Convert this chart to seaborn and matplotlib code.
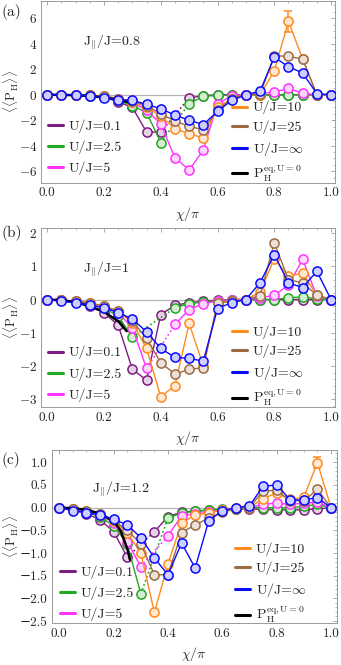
import numpy as np
import pandas as pd
import seaborn as sns
import matplotlib.pyplot as plt
from matplotlib.colors import to_rgb
from matplotlib.lines import Line2D
from matplotlib.ticker import MultipleLocator

nan = np.nan

# chi/pi grid of the simulation points
chi = [0.0, 0.05, 0.1, 0.15, 0.2, 0.25, 0.3, 0.35, 0.4, 0.45, 0.5,
       0.55, 0.6, 0.65, 0.7, 0.75, 0.8, 0.85, 0.9, 0.95, 1.0]

labels = ['U/J=0.1', 'U/J=2.5', 'U/J=5', 'U/J=10', 'U/J=25', r'U/J=$\infty$']
colors = ['#7d1d80', '#22a822', '#ff33ff', '#ff8a1e', '#9b6b43', '#0a0aff']

# ---- (a) J_par/J = 0.8
a_u01 = [0, 0, -0.02, -0.08, -0.2, -0.55, -1.0, -2.93, -2.93, nan, -0.25,
         -0.08, 0, 0, 0, 0, 0, 0, 0, 0, 0]
a_u25 = [0, 0, -0.02, -0.07, -0.18, -0.45, -0.85, -1.4, -3.75, nan, -0.7,
         -0.13, -0.05, -0.02, 0, 0, 0, 0, 0, 0, 0]
a_u5 = [0, 0, -0.02, -0.06, -0.15, -0.35, -0.6, -1.2, -2.3, -4.95, -5.9,
        -4.35, -0.7, -0.1, 0, 0.1, 0.2, 0.5, 0.1, 0, 0]
a_u10 = [0, 0, -0.02, -0.05, -0.12, -0.3, -0.55, -0.95, -1.7, -2.66, -3.05,
         -3.4, -1.0, -0.35, 0, 0, 1.85, 5.75, 2.8, 0, 0]
a_u25b = [0, 0, -0.02, -0.05, -0.12, -0.3, -0.5, -0.85, -1.5, -2.06, -2.48,
          -2.75, -1.2, -0.3, 0, 0.05, 3.07, 3.0, 2.8, 0, 0]
a_uinf = [0, 0, 0, -0.12, -0.22, -0.4, -0.45, -0.75, -1.1, -1.6, -2.0,
          -2.35, -1.3, -0.45, 0, 0.28, 2.94, 2.2, 1.7, 0.08, 0]
a_eq_x = [0, 0.05, 0.1, 0.15, 0.2, 0.25, 0.3]
a_eq_y = [0, -0.01, -0.04, -0.1, -0.22, -0.4, -0.65]

# ---- (b) J_par/J = 1
b_u01 = [0, -0.02, -0.08, -0.2, -0.4, -0.77, -2.1, -2.42, -0.45, -0.17, -0.1,
         -0.05, -0.02, 0, 0, 0, 0, 0, 0, 0, 0]
b_u25 = [0, -0.02, -0.06, -0.12, -0.25, -0.5, -1.13, nan, nan, -0.25, -0.12,
         -0.08, -0.03, 0, 0, 0, 0, 0.05, 0.08, 0.02, 0]
b_u5 = [0, -0.02, -0.05, -0.12, -0.22, -0.4, -0.85, -2.07, nan, -0.75, -0.3,
        -0.12, -0.05, 0, 0, 0.05, 0.13, 0.43, 1.21, 0.1, 0]
b_u10 = [0, -0.02, -0.05, -0.1, -0.2, -0.35, -0.7, -1.47, -2.92, -2.59, -0.72,
         -2.0, -0.1, -0.05, 0, 0.23, 1.23, 0.7, 0.8, 0.13, 0]
b_u25b = [0, -0.02, -0.05, -0.1, -0.2, -0.35, -0.65, -1.17, -1.9, -2.24, -2.1,
          -2.05, -0.1, -0.05, 0, 0.12, 1.71, 0.6, 0.5, 0.13, 0]
b_uinf = [0, -0.05, -0.1, -0.17, -0.25, -0.39, -0.59, -0.97, -1.47, -1.74,
          -1.77, -1.85, -0.27, -0.09, 0, 0.51, 1.35, 0.5, 0.36, 0.85, 0]
b_eq_x = [0, 0.05, 0.1, 0.15, 0.2, 0.25, 0.28]
b_eq_y = [0, -0.02, -0.08, -0.2, -0.37, -0.65, -0.95]

# ---- (c) J_par/J = 1.2
c_u01 = [0, -0.05, -0.13, -0.27, -0.53, -1.09, nan, -0.53, -0.2, -0.1, -0.08,
         -0.06, -0.05, -0.03, -0.03, -0.04, -0.05, -0.05, -0.05, -0.03, 0]
c_u25 = [0, -0.04, -0.1, -0.2, -0.4, -0.8, -1.9, nan, -0.23, -0.12, -0.08,
         -0.05, -0.03, -0.02, 0, 0, 0, 0, 0.03, 0.07, 0]
c_u5 = [0, -0.04, -0.09, -0.17, -0.33, -0.75, -1.3, nan, -0.62, -0.18, -0.14,
        -0.1, -0.05, 0, 0, 0.07, 0.1, 0.07, 0.1, 0.12, 0]
c_u10 = [0, -0.03, -0.08, -0.15, -0.3, -0.55, -1.0, -2.31, -1.24, -0.34, -0.16,
         -0.12, -0.05, 0, 0, 0.2, 0.32, 0.18, 0.23, 0.99, 0]
c_u25b = [0, -0.03, -0.08, -0.15, -0.28, -0.5, -0.8, -1.48, -1.48, -0.55, -0.38,
          -0.23, -0.1, -0.03, 0, 0.37, 0.38, 0.15, 0.15, 0.4, 0]
c_uinf = [0, -0.07, -0.11, -0.16, -0.26, -0.38, -0.66, -1.11, -1.48, -0.78,
          -1.33, -0.29, -0.07, 0, 0.04, 0.47, 0.5, 0.17, 0.17, 0.22, 0]
c_eq_x = [0, 0.05, 0.1, 0.15, 0.2, 0.225, 0.25, 0.26]
c_eq_y = [0, -0.015, -0.05, -0.13, -0.3, -0.5, -0.9, -1.15]

# error bars (index, error) on the U/J=10 curve
a_err = (17, 0.85)
c_err = (19, 0.12)

sns.set_theme(style='white')
plt.rcParams['font.family'] = ['cmr10', 'DejaVu Serif']
plt.rcParams['mathtext.fontset'] = 'cm'
plt.rcParams['axes.formatter.use_mathtext'] = True


def tint(c, f=0.2):
    r = np.array(to_rgb(c))
    return tuple(1 - f * (1 - r))


def segments(y):
    idx = [i for i, v in enumerate(y) if not np.isnan(v)]
    segs, cur = [], [idx[0]]
    for i in idx[1:]:
        if i == cur[-1] + 1:
            cur.append(i)
        else:
            segs.append(cur)
            cur = [i]
    segs.append(cur)
    return segs


def draw_series(ax, y, c, z):
    y = np.array(y, dtype=float)
    x = np.array(chi)
    segs = segments(y)
    for s in segs:
        df = pd.DataFrame({'chi': x[s], 'P': y[s]})
        sns.lineplot(data=df, x='chi', y='P', ax=ax, color=c, linewidth=1.0,
                     marker='o', markersize=6.6, markerfacecolor=tint(c),
                     markeredgecolor=c, markeredgewidth=1.1, errorbar=None,
                     zorder=z, legend=False)
    for s0, s1 in zip(segs[:-1], segs[1:]):
        ax.plot([x[s0[-1]], x[s1[0]]], [y[s0[-1]], y[s1[0]]], color=c,
                lw=1.2, ls=(0, (1, 1.6)), zorder=z - 0.5)


def panel(ax, series, eq_x, eq_y, err, ylim, ymaj, ymin, jtext, xlim):
    ax.axhline(0, color='#b5b5b5', lw=0.9, zorder=0)
    for k, (y, c) in enumerate(zip(series, colors)):
        if k == 5:
            sns.lineplot(x=eq_x, y=eq_y, ax=ax, color='black', linewidth=1.8,
                         zorder=8, errorbar=None, legend=False)
        draw_series(ax, y, c, 3 + k)
    i, e = err
    if e > 0:
        ax.errorbar(chi[i], series[3][i], yerr=e, fmt='none', ecolor=colors[3],
                    elinewidth=1.1, capsize=3, capthick=1.1, zorder=5)
    ax.set_xlim(*xlim)
    ax.set_ylim(*ylim)
    ax.xaxis.set_major_locator(MultipleLocator(0.2))
    ax.xaxis.set_minor_locator(MultipleLocator(0.05))
    ax.yaxis.set_major_locator(MultipleLocator(ymaj))
    ax.yaxis.set_minor_locator(MultipleLocator(ymin))
    ax.xaxis.set_major_formatter(lambda v, p: f'{v:.1f}')
    ax.tick_params(which='both', direction='in', top=True, right=True,
                   color='#9a9a9a', labelsize=9.5, pad=3)
    ax.tick_params(which='major', length=3.2, width=0.6)
    ax.tick_params(which='minor', length=1.6, width=0.5)
    for sp in ax.spines.values():
        sp.set_color('#9a9a9a')
        sp.set_linewidth(0.7)
    ax.set_xlabel(r'$\chi/\pi$', fontsize=10, labelpad=4)
    ax.set_ylabel(r'$\langle\langle \mathrm{P_H} \rangle\rangle$', fontsize=9.5)
    ax.text(0.142, 0.77, jtext, transform=ax.transAxes, fontsize=10,
            va='center', ha='left')


def legends(ax, xl, yl, xr, yr):
    hl = [Line2D([], [], color=c, lw=2.2) for c in colors[:3]]
    hr = [Line2D([], [], color=c, lw=2.2) for c in colors[3:]]
    hr.append(Line2D([], [], color='black', lw=2.2))
    kw = dict(frameon=False, fontsize=10, handlelength=1.1, handletextpad=0.4,
              borderpad=0, borderaxespad=0, loc='upper left')
    l1 = ax.legend(hl, labels[:3], bbox_to_anchor=(xl, yl), labelspacing=0.55, **kw)
    ax.add_artist(l1)
    ax.legend(hr, labels[3:] + [r'P$_\mathrm{H}^\mathrm{eq,U=0}$'],
              bbox_to_anchor=(xr, yr), labelspacing=0.42, **kw)


fig = plt.figure(figsize=(3.41, 6.65), dpi=100)
ax_a = fig.add_axes([0.1211, 0.7253, 0.8613, 0.2732])
ax_b = fig.add_axes([0.1211, 0.3875, 0.8613, 0.2696])
ax_c = fig.add_axes([0.1516, 0.0627, 0.8358, 0.2606])

panel(ax_a, [a_u01, a_u25, a_u5, a_u10, a_u25b, a_uinf], a_eq_x, a_eq_y, a_err,
      (-6.9, 7.35), 2, 0.5, r'J$_{\Vert}$/J=0.8', (-0.021, 1.014))
panel(ax_b, [b_u01, b_u25, b_u5, b_u10, b_u25b, b_uinf], b_eq_x, b_eq_y, (17, 0),
      (-3.24, 2.15), 1, 0.2, r'J$_{\Vert}$/J=1', (-0.021, 1.014))
panel(ax_c, [c_u01, c_u25, c_u5, c_u10, c_u25b, c_uinf], c_eq_x, c_eq_y, c_err,
      (-2.55, 1.27), 0.5, 0.1, r'J$_{\Vert}$/J=1.2', (-0.028, 1.021))
ax_c.yaxis.set_major_formatter(lambda v, p: f'{v:.1f}'.replace('-', '\u2212'))

ax_a.yaxis.set_label_coords(-0.07, 0.5)
ax_b.yaxis.set_label_coords(-0.07, 0.5)
ax_c.yaxis.set_label_coords(-0.106, 0.5)

legends(ax_a, 0.023, 0.35, 0.649, 0.45)
legends(ax_b, 0.023, 0.342, 0.649, 0.459)
legends(ax_c, 0.029, 0.336, 0.643, 0.469)

fig.text(0.005, 0.982, '(a)', fontsize=11, va='center')
fig.text(0.005, 0.650, '(b)', fontsize=11, va='center')
fig.text(0.005, 0.308, '(c)', fontsize=11, va='center')

fig.savefig('out.png', dpi=100)
